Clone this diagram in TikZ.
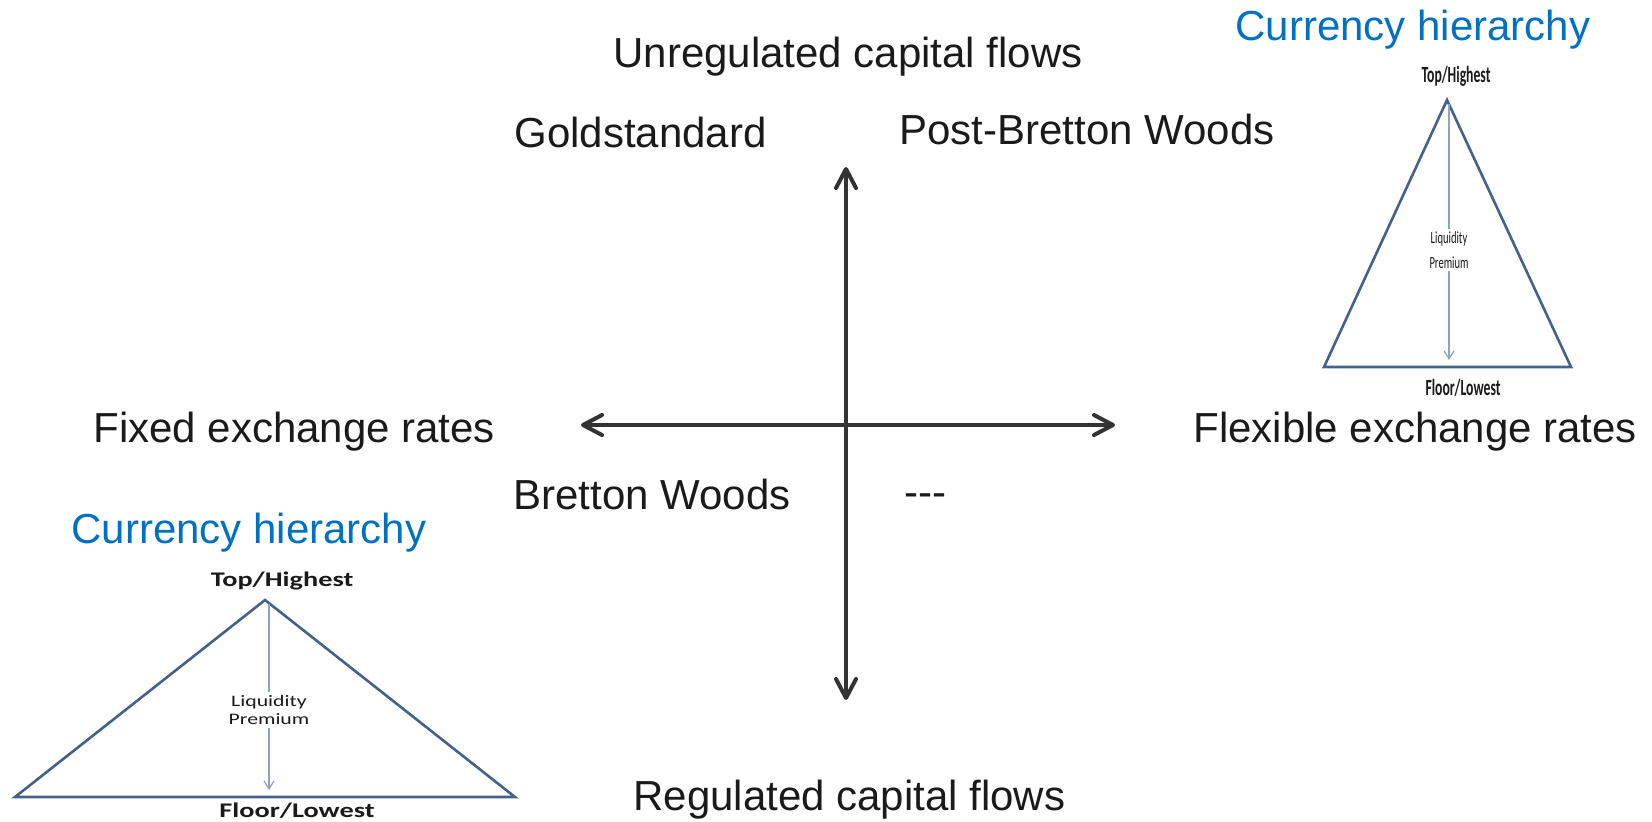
\documentclass[tikz,border=0pt]{standalone}
\usepackage{fontspec}
\setmainfont{Liberation Sans}
\newfontfamily\calfont{Carlito}
\usetikzlibrary{arrows.meta}
\definecolor{axisgray}{HTML}{333333}
\definecolor{inkblack}{HTML}{1A1A1A}
\definecolor{titleblue}{HTML}{0070C0}
\definecolor{triline}{HTML}{44618A}
\definecolor{arrowline}{HTML}{8CA3C2}
\tikzset{
  axis/.style={draw=axisgray, line width=2pt,
    {Straight Barb[length=9.5pt,width=10pt,round]}-{Straight Barb[length=9.5pt,width=10pt,round]}},
  big/.style={font=\fontsize{21}{25}\selectfont, text=inkblack, inner sep=0pt},
  title/.style={font=\fontsize{21}{25}\selectfont, text=titleblue, inner sep=0pt},
  tri/.style={draw=triline, line width=1.3pt, line join=miter},
  liq/.style={draw=arrowline, line width=0.6pt, -{Straight Barb[length=4pt,width=5pt]}},
  small/.style={inner sep=0pt, text=inkblack, align=center},
  gap/.style={inner sep=1.5pt, fill=white, text=inkblack, align=center}
}
\begin{document}
\begin{tikzpicture}[x=0.5pt, y=-0.5pt]
\useasboundingbox (0,0) rectangle (1652,821);

% axes
\coordinate (c) at (846,425);
\coordinate (up) at (846,167);
\coordinate (down) at (846,700);
\coordinate (left) at (581,425);
\coordinate (right) at (1115,425);
\draw[axis] (left) -- (right);
\draw[axis] (down) -- (up);

% quadrant and axis labels
\node[big, anchor=base west] (unreg) at (613,67) {Unregulated capital flows};
\node[big, anchor=base west] (gold) at (514,147) {Goldstandard};
\node[big, anchor=base west] (pbw) at (899,144) {Post-Bretton Woods};
\node[big, anchor=base west] (fixed) at (93,442) {Fixed exchange rates};
\node[big, anchor=base west] (flex) at (1193,442) {Flexible exchange rates};
\node[big, anchor=base west] (bw) at (513,509) {Bretton Woods};
\node[big, anchor=base west] (none) at (904,506) {\mbox{-}\mbox{-}\mbox{-}};
\node[big, anchor=base west] (reg) at (633,810) {Regulated capital flows};

% currency hierarchy, narrow pyramid
\node[title, anchor=base west] (ttr) at (1235,40) {Currency hierarchy};
\coordinate (a1) at (1447,100);
\coordinate (l1) at (1324,367);
\coordinate (r1) at (1571,367);
\coordinate (b1) at (1449,360);
\draw[tri] (a1) -- (l1) -- (r1) -- cycle;
\draw[liq] (1449,104) -- (b1);
\node[gap, font=\calfont\fontsize{8.5}{12.5}\selectfont] (lp1) at (1449,250)
  {\scalebox{0.62}[1]{Liquidity}\\\scalebox{0.62}[1]{Premium}};
\node[small, anchor=base, font=\calfont\bfseries\fontsize{11.6}{14}\selectfont] (top1) at (1456,82)
  {\scalebox{0.59}[1]{Top/Highest}};
\node[small, anchor=base, font=\calfont\bfseries\fontsize{11.6}{14}\selectfont] (fl1) at (1463,395)
  {\scalebox{0.59}[1]{Floor/Lowest}};

% currency hierarchy, wide pyramid
\node[title, anchor=base west] (tbl) at (71,543) {Currency hierarchy};
\coordinate (a2) at (265,600);
\coordinate (l2) at (15,797);
\coordinate (r2) at (515,797);
\coordinate (b2) at (269,790);
\draw[tri] (a2) -- (l2) -- (r2) -- cycle;
\draw[liq] (269,604) -- (b2);
\node[gap, font=\calfont\fontsize{8}{9.2}\selectfont] (lp2) at (269,710)
  {\scalebox{1.36}[1]{Liquidity}\\\scalebox{1.36}[1]{Premium}};
\node[small, anchor=base, font=\calfont\bfseries\fontsize{10.4}{12}\selectfont] (top2) at (282,586)
  {\scalebox{1.36}[1]{Top/Highest}};
\node[small, anchor=base, font=\calfont\bfseries\fontsize{10.4}{12}\selectfont] (fl2) at (297,817)
  {\scalebox{1.36}[1]{Floor/Lowest}};
\end{tikzpicture}
\end{document}
